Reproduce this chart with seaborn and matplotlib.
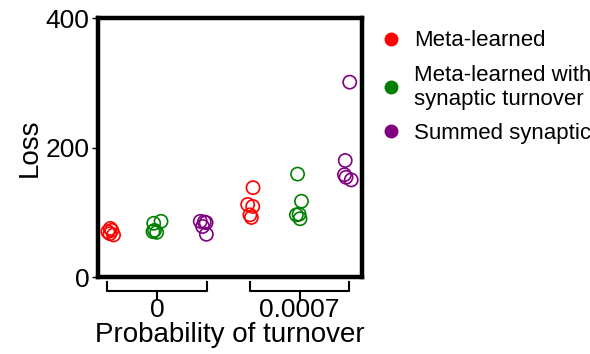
import matplotlib
matplotlib.use("Agg")
import matplotlib.pyplot as plt
import matplotlib.transforms as mtransforms
from matplotlib.lines import Line2D
import numpy as np
import pandas as pd
import seaborn as sns

probs = ['0', '0.0007']
models = ['Meta-learned', 'Meta-learned with\nsynaptic turnover', 'Summed synaptic']
colors = ['#ff0000', '#008000', '#800080']

loss_meta_p0 = [75, 72, 70, 67, 65]
loss_turn_p0 = [86, 83, 72, 70, 69]
loss_sum_p0 = [86, 85, 84, 78, 66]
loss_meta_p1 = [138, 112, 109, 96, 92]
loss_turn_p1 = [159, 117, 97, 96, 90]
loss_sum_p1 = [301, 180, 158, 154, 150]

rows = []
for prob, group in zip(probs, [[loss_meta_p0, loss_turn_p0, loss_sum_p0],
                               [loss_meta_p1, loss_turn_p1, loss_sum_p1]]):
    for model, vals in zip(models, group):
        for v in vals:
            rows.append({'prob': prob, 'model': model, 'slot': f'{prob}|{model}', 'loss': v})
df = pd.DataFrame(rows)
order = [f'{p}|{m}' for p in probs for m in models]

plt.rcParams['font.family'] = ['Liberation Sans', 'DejaVu Sans']
fig = plt.figure(figsize=(5.9, 3.54), dpi=100)
ax = fig.add_axes([0.166, 0.2175, 0.448, 0.7315])

np.random.seed(3)
sns.stripplot(data=df, x='slot', y='loss', hue='model', order=order, hue_order=models,
              palette=colors, jitter=0.1, size=9.5, legend=False, ax=ax)
for coll in ax.collections:
    fc = coll.get_facecolor()
    coll.set_edgecolor(fc)
    coll.set_facecolor('none')
    coll.set_linewidth(1.2)

ax.set_xlim(-0.25, 5.32)
ax.set_ylim(0, 400)
ax.set_yticks([0, 200, 400])
ax.tick_params(axis='y', labelsize=19, length=4, width=1, direction='out', pad=2)
for s in ax.spines.values():
    s.set_linewidth(3.2)
    s.set_color('black')

# bracket x-axis
ax.set_xticks([1, 4])
ax.set_xticklabels(probs)
ax.tick_params(axis='x', labelsize=19, length=0, pad=15)
trans = mtransforms.blended_transform_factory(ax.transData, ax.transAxes)
for c in [1, 4]:
    ax.plot([c - 1.05, c - 1.05, c + 1.05, c + 1.05], [-0.02, -0.055, -0.055, -0.02],
            color='black', lw=1.5, transform=trans, clip_on=False)
    ax.plot([c, c], [-0.055, -0.085], color='black', lw=1.5, transform=trans, clip_on=False)

ax.set_xlabel('Probability of turnover', fontsize=20, labelpad=0)
ax.set_ylabel('Loss', fontsize=20, labelpad=2)

handles = [Line2D([], [], marker='o', linestyle='none', color=c, markersize=9) for c in colors]
fig.legend(handles, models, loc='upper left', bbox_to_anchor=(0.617, 0.952), frameon=False,
           fontsize=16, handletextpad=0.45, labelspacing=0.6, handlelength=1.2,
           borderaxespad=0.2)

fig.savefig('out.png', dpi=100)
